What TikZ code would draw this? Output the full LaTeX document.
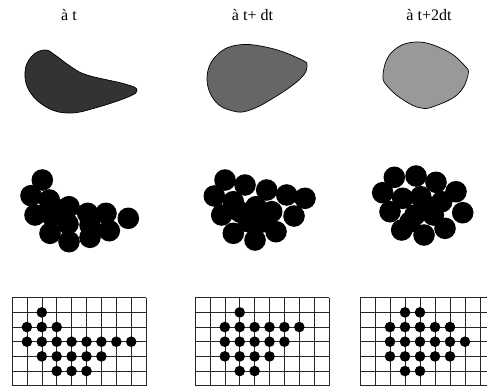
\documentclass[tikz,border=0pt]{standalone}
\usepackage{fontspec}
\setmainfont{Liberation Serif}
\begin{document}
\begin{tikzpicture}[x=1pt,y=-1pt,
  blob/.style={draw=black,line width=0.7pt},
  disc/.style={fill=black,draw=none},
  gridline/.style={line width=0.6pt,draw=black!85},
  lbl/.style={font=\fontsize{16}{16}\selectfont,anchor=base,inner sep=0pt}]
\useasboundingbox (0,0) rectangle (487,391);
\clip (0,0) rectangle (487,391);
% labels
\node[lbl] (l1) at (69,20.5) {à t};
\node[lbl] (l2) at (252.5,20.5) {à t+ dt};
\node[lbl] (l3) at (429,20.5) {à t+2dt};
% blobs
\filldraw[blob,fill=black!80] plot[smooth cycle,tension=0.7] coordinates {
 (25,72) (32,56) (45,50) (55,55) (70,66) (87,75) (125,84) (137,90) (128,97) (95,108) (70,113) (48,108) (30,92)};
\filldraw[blob,fill=black!60] plot[smooth cycle,tension=0.7] coordinates {
 (207,78) (216,56) (238,45) (270,48) (300,59) (307,66) (300,79) (275,97) (250,110) (233,111) (215,101)};
\filldraw[blob,fill=black!40] plot[smooth cycle,tension=0.7] coordinates {
 (383,75) (392,52) (416,42) (445,50) (464,65) (468,75) (458,94) (435,106) (421,108) (405,101) (389,88)};
% discs row
\foreach \x/\y in {42.3/180,31/195.7,49.3/200,35/215,69/206.7,87.7/213.3,106/213.3,128.3/218.3,50/233.3,69/241.7,90/237.3,109.3/230.7,68/224,52/216,90/225,60/210}
  \fill[disc] (\x,\y) circle (10.8);
\foreach \x/\y in {225/180,245/185,214.3/196,233.3/201.7,266.7/190,286.7/195,305/198.3,221.7/215,256/206.7,271.7/211.7,294/216,248.3/221.7,233.3/233.3,255/240,276/231.7,240/212,262/222}
  \fill[disc] (\x,\y) circle (10.8);
\foreach \x/\y in {394.3/177.3,416/176,436/182.3,456/191.7,382.7/192.7,402.7/198.3,420.7/196.7,441.7/201.7,390/211.7,415/215,433.3/215,462.7/212.7,401.7/230,424/235,445/228.3,425/205,410/222}
  \fill[disc] (\x,\y) circle (10.8);
% grids
\foreach \gx/\gw in {12/14.9,195/14.9,360/15}{
  \foreach \i in {0,...,9} \draw[gridline] (\gx+\i*\gw,297.7) -- (\gx+\i*\gw,385.7);
  \foreach \j in {0,...,6} \draw[gridline] (\gx,297.7+\j*14.67) -- (\gx+9*\gw,297.7+\j*14.67);
}
% grid 1 dots
\foreach \i/\j in {2/1,1/2,2/2,3/2,1/3,2/3,3/3,4/3,5/3,6/3,7/3,8/3,2/4,3/4,4/4,5/4,6/4,3/5,4/5,5/5}
  \fill[disc] (12+\i*14.9,297.7+\j*14.67) circle (5.3);
% grid 2 dots
\foreach \i/\j in {3/1,2/2,3/2,4/2,5/2,6/2,7/2,2/3,3/3,4/3,5/3,6/3,2/4,3/4,4/4,5/4,3/5,4/5}
  \fill[disc] (195+\i*14.9,297.7+\j*14.67) circle (5.3);
% grid 3 dots
\foreach \i/\j in {3/1,4/1,2/2,3/2,4/2,5/2,6/2,2/3,3/3,4/3,5/3,6/3,7/3,2/4,3/4,4/4,5/4,6/4,3/5,4/5}
  \fill[disc] (360+\i*15,297.7+\j*14.67) circle (5.3);
\end{tikzpicture}
\end{document}
